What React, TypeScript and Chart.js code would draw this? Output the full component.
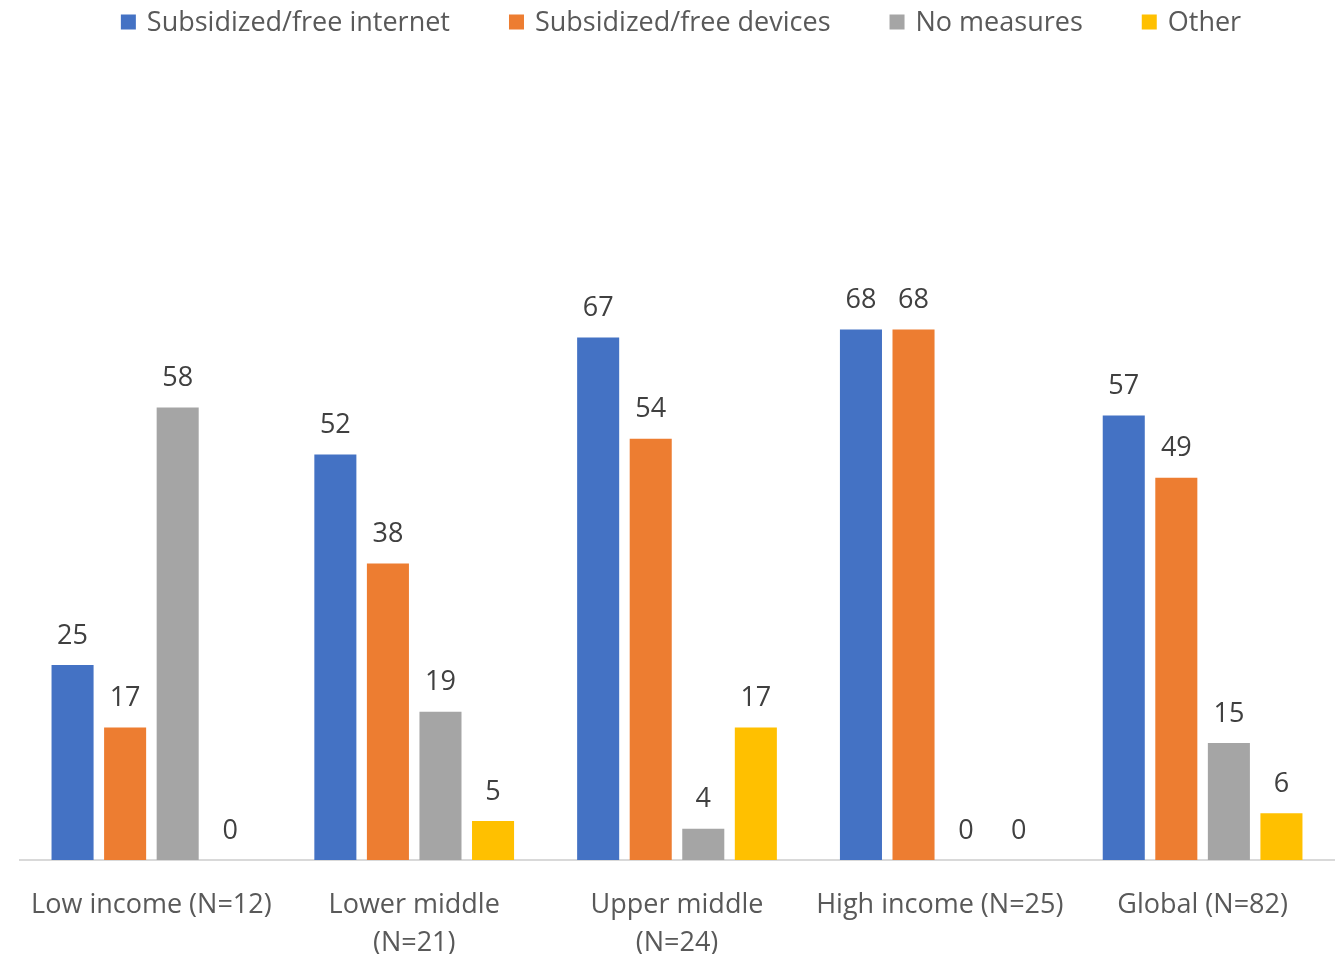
import React, { useEffect, useRef } from "react";
import { Chart, registerables } from "chart.js";

Chart.register(...registerables);

const categories: string[][] = [
  ["Low income (N=12)"],
  ["Lower middle", "(N=21)"],
  ["Upper middle", "(N=24)"],
  ["High income (N=25)"],
  ["Global (N=82)"],
];

const seriesNames = ["Subsidized/free internet", "Subsidized/free devices", "No measures", "Other"];
const seriesColors = ["#4472C4", "#ED7D31", "#A5A5A5", "#FFC000"];

const internetValues = [25, 52, 67, 68, 57];
const devicesValues = [17, 38, 54, 68, 49];
const noMeasuresValues = [58, 19, 4, 0, 15];
const otherValues = [0, 5, 17, 0, 6];

const FONT_FAMILY = "'Open Sans', sans-serif";
const TEXT_COLOR = "#595959";
const FONT_SIZE = 27;

const valueLabelPlugin = {
  id: "valueLabels",
  afterDatasetsDraw(chart: any) {
    const ctx = chart.ctx;
    ctx.save();
    ctx.font = `${FONT_SIZE}px ${FONT_FAMILY}`;
    ctx.fillStyle = "#404040";
    ctx.textAlign = "center";
    ctx.textBaseline = "middle";
    chart.data.datasets.forEach((ds: any, i: number) => {
      const meta = chart.getDatasetMeta(i);
      meta.data.forEach((el: any, j: number) => {
        ctx.fillText(String(ds.data[j]), el.x, el.y - 29);
      });
    });
    ctx.restore();
  },
};

const customLegendPlugin = {
  id: "customLegend",
  afterDraw(chart: any) {
    const ctx = chart.ctx;
    ctx.save();
    ctx.font = `${FONT_SIZE}px ${FONT_FAMILY}`;
    const box = 15;
    const boxGap = 11;
    const itemGap = 59;
    const widths = seriesNames.map((n) => box + boxGap + ctx.measureText(n).width);
    const total = widths.reduce((a, b) => a + b, 0) + itemGap * (seriesNames.length - 1);
    let x = 681 - total / 2;
    const cy = 22;
    seriesNames.forEach((n, i) => {
      ctx.fillStyle = seriesColors[i];
      ctx.fillRect(x, cy - box / 2, box, box);
      ctx.fillStyle = TEXT_COLOR;
      ctx.textAlign = "left";
      ctx.textBaseline = "middle";
      ctx.fillText(n, x + box + boxGap, cy + 1);
      x += widths[i] + itemGap;
    });
    ctx.restore();
  },
};

export default function App() {
  const ref = useRef<HTMLCanvasElement | null>(null);

  useEffect(() => {
    if (!ref.current) return;
    const valueSets = [internetValues, devicesValues, noMeasuresValues, otherValues];
    const chart = new Chart(ref.current, {
      type: "bar",
      data: {
        labels: categories,
        datasets: valueSets.map((vals, i) => ({
          label: seriesNames[i],
          data: vals,
          backgroundColor: seriesColors[i],
          borderWidth: 0,
          categoryPercentage: 0.8,
          barPercentage: 0.8,
        })),
      },
      options: {
        responsive: false,
        animation: false,
        devicePixelRatio: 1,
        layout: { padding: { top: 236, left: 20, right: 3, bottom: 0 } },
        plugins: {
          legend: { display: false },
          tooltip: { enabled: false },
        },
        scales: {
          y: { display: false, min: 0, max: 80 },
          x: {
            grid: { display: false, drawTicks: false },
            border: { display: true, color: "#D9D9D9", width: 2 },
            ticks: {
              color: TEXT_COLOR,
              font: { family: FONT_FAMILY, size: FONT_SIZE, lineHeight: 1.41 },
              padding: 26,
              maxRotation: 0,
              autoSkip: false,
            },
            afterFit: (scale: any) => {
              scale.height = 120;
            },
          },
        },
      },
      plugins: [valueLabelPlugin, customLegendPlugin],
    });
    return () => chart.destroy();
  }, []);

  return (
    <div style={{ position: "fixed", left: 0, top: 0, width: 1337, height: 954, overflow: "hidden", background: "#fff" }}>
      <canvas ref={ref} width={1337} height={980} style={{ width: 1337, height: 980, display: "block" }} />
    </div>
  );
}
